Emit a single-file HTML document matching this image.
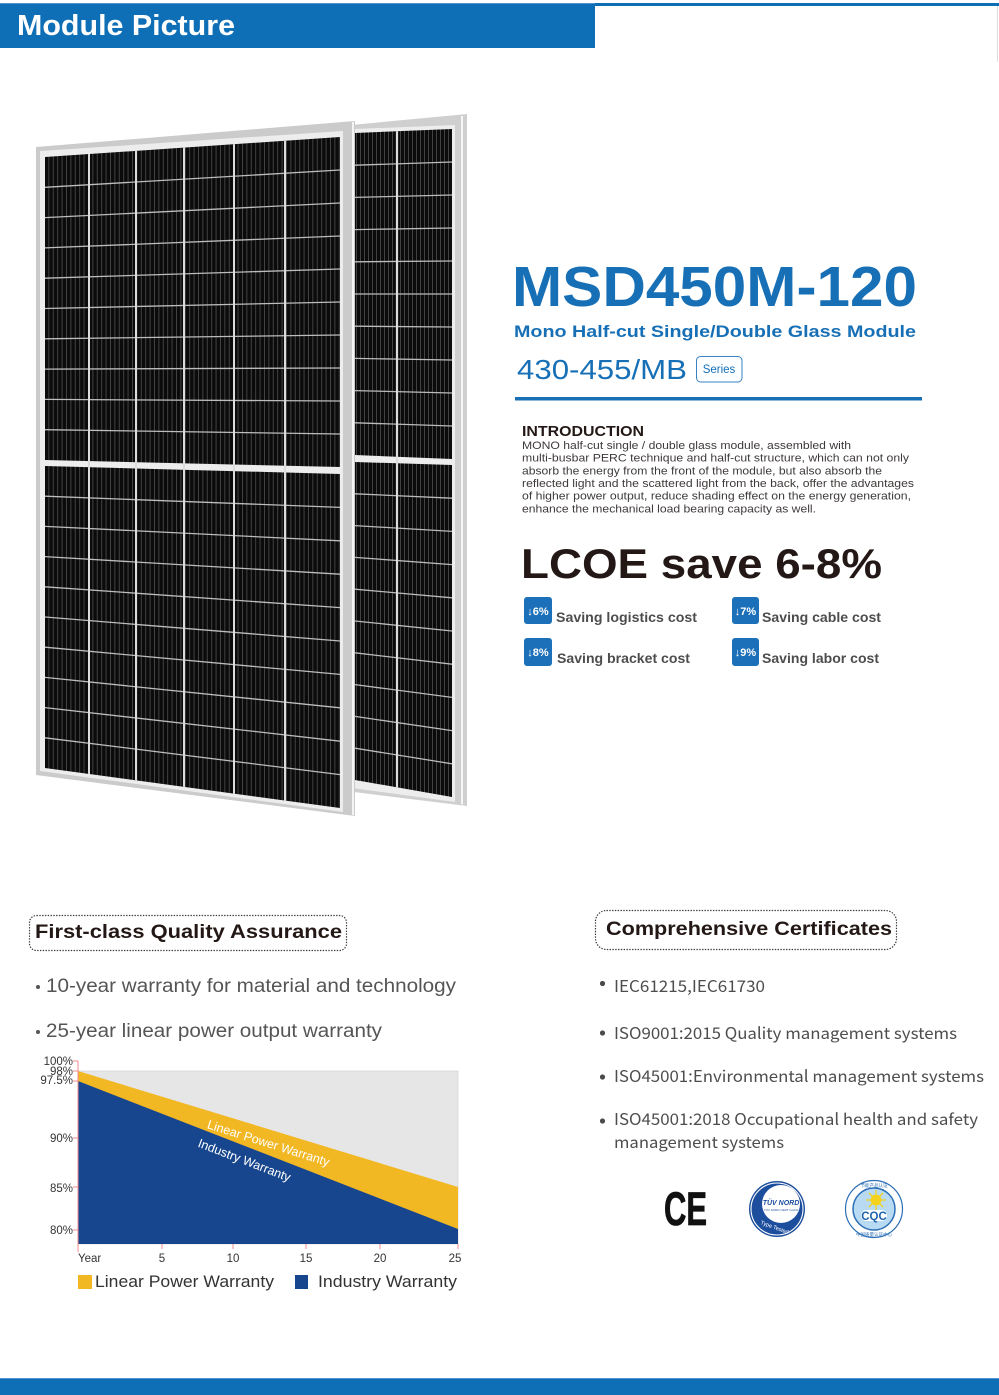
<!DOCTYPE html>
<html>
<head>
<meta charset="utf-8">
<style>
html,body{margin:0;padding:0;background:#fff;}
body{width:999px;height:1395px;overflow:hidden;}
svg{display:block;}
</style>
</head>
<body>
<svg width="999" height="1395" viewBox="0 0 999 1395" xmlns="http://www.w3.org/2000/svg" font-family="'Liberation Sans', Arial, sans-serif">
<defs>
  <pattern id="st" width="4.4" height="20" patternUnits="userSpaceOnUse">
    <rect width="4.4" height="20" fill="#0b0b0b"/>
    <rect width="0.9" height="20" fill="#474747"/>
  </pattern>
  <pattern id="st2" width="4.0" height="20" patternUnits="userSpaceOnUse">
    <rect width="4.0" height="20" fill="#0b0b0b"/>
    <rect width="0.9" height="20" fill="#474747"/>
  </pattern>
  <clipPath id="cf">
    <polygon points="45,157 340,137 340,808 45,768"/>
  </clipPath>
  <clipPath id="cb">
    <polygon points="355,133 452,129 452,797 355,780"/>
  </clipPath>
</defs>

<!-- Header -->
<rect x="0" y="3" width="595" height="45" fill="#0e6eb6"/>
<rect x="0" y="3" width="595" height="1" fill="#4f93cf"/>
<rect x="595" y="3" width="404" height="3" fill="#0e6eb6"/>
<rect x="997" y="6" width="1" height="56" fill="#dedede"/>
<text x="17" y="35" font-size="29" font-weight="bold" fill="#ffffff" textLength="218" lengthAdjust="spacingAndGlyphs">Module Picture</text>

<!-- Back panel -->
<polygon points="330,127 467,114 467,806 330,789" fill="#cfcfcf"/>
<polygon points="330,130 455,125 455,802 330,785" fill="#ededed"/>
<polygon points="461,116 463,116 463,805 461,804" fill="#f6f6f6"/>
<polygon points="355,133 452,129 452,459 355,455" fill="url(#st2)"/>
<polygon points="355,462 452,465 452,797 355,780" fill="url(#st2)"/>
<g clip-path="url(#cb)" stroke="#bcbcbc" stroke-width="1.3">
  <line x1="355" y1="165.2" x2="452" y2="162"/>
  <line x1="355" y1="197.4" x2="452" y2="195"/>
  <line x1="355" y1="229.6" x2="452" y2="228"/>
  <line x1="355" y1="261.8" x2="452" y2="261"/>
  <line x1="355" y1="294" x2="452" y2="294"/>
  <line x1="355" y1="326.2" x2="452" y2="327"/>
  <line x1="355" y1="358.4" x2="452" y2="360"/>
  <line x1="355" y1="390.6" x2="452" y2="393"/>
  <line x1="355" y1="422.8" x2="452" y2="426"/>
  <line x1="355" y1="493.8" x2="452" y2="498.2"/>
  <line x1="355" y1="525.6" x2="452" y2="531.4"/>
  <line x1="355" y1="557.4" x2="452" y2="564.6"/>
  <line x1="355" y1="589.2" x2="452" y2="597.8"/>
  <line x1="355" y1="621" x2="452" y2="631"/>
  <line x1="355" y1="652.8" x2="452" y2="664.2"/>
  <line x1="355" y1="684.6" x2="452" y2="697.4"/>
  <line x1="355" y1="716.4" x2="452" y2="730.6"/>
  <line x1="355" y1="748.2" x2="452" y2="763.8"/>
  <line x1="397" y1="100" x2="397" y2="820" stroke="#dcdcdc" stroke-width="2.2"/>
</g>

<!-- Front panel -->
<polygon points="36,147 355,121 355,816 36,775" fill="#cbcbcb"/>
<polygon points="40,151 343,131 343,812 40,771" fill="#ededed"/>
<polygon points="352,122 354,122 354,815 352,815" fill="#f4f4f4"/>
<polygon points="45,157 340,137 340,467 45,460" fill="url(#st)"/>
<polygon points="45,466 340,474 340,808 45,768" fill="url(#st)"/>
<g clip-path="url(#cf)" stroke="#bdbdbd" stroke-width="1.3">
  <line x1="45" y1="187.3" x2="340" y2="170"/>
  <line x1="45" y1="217.6" x2="340" y2="203"/>
  <line x1="45" y1="247.9" x2="340" y2="236"/>
  <line x1="45" y1="278.2" x2="340" y2="269"/>
  <line x1="45" y1="308.5" x2="340" y2="302"/>
  <line x1="45" y1="338.8" x2="340" y2="335"/>
  <line x1="45" y1="369.1" x2="340" y2="368"/>
  <line x1="45" y1="399.4" x2="340" y2="401"/>
  <line x1="45" y1="429.7" x2="340" y2="434"/>
  <line x1="45" y1="496.2" x2="340" y2="507.4"/>
  <line x1="45" y1="526.4" x2="340" y2="540.8"/>
  <line x1="45" y1="556.6" x2="340" y2="574.2"/>
  <line x1="45" y1="586.8" x2="340" y2="607.6"/>
  <line x1="45" y1="617" x2="340" y2="641"/>
  <line x1="45" y1="647.2" x2="340" y2="674.4"/>
  <line x1="45" y1="677.4" x2="340" y2="707.8"/>
  <line x1="45" y1="707.6" x2="340" y2="741.2"/>
  <line x1="45" y1="737.8" x2="340" y2="774.6"/>
  <g stroke="#dcdcdc" stroke-width="2">
    <line x1="89" y1="100" x2="89" y2="820"/>
    <line x1="136" y1="100" x2="136" y2="820"/>
    <line x1="184" y1="100" x2="184" y2="820"/>
    <line x1="234" y1="100" x2="234" y2="820"/>
    <line x1="285" y1="100" x2="285" y2="820"/>
  </g>
</g>

<!-- Title block -->
<text x="512" y="306" font-size="57" font-weight="bold" fill="#1770b6" textLength="405" lengthAdjust="spacingAndGlyphs">MSD450M-120</text>
<text x="514" y="337" font-size="16.5" font-weight="bold" fill="#1770b6" textLength="402" lengthAdjust="spacingAndGlyphs">Mono Half-cut Single/Double Glass Module</text>
<text x="517" y="379" font-size="28" fill="#1770b6" textLength="170" lengthAdjust="spacingAndGlyphs">430-455/MB</text>
<rect x="696.5" y="356.5" width="45.5" height="25.5" rx="4" fill="#fbfdff" stroke="#3b82c4" stroke-width="1"/>
<text x="719" y="373" font-size="11.5" fill="#1770b6" text-anchor="middle">Series</text>
<rect x="515" y="397" width="407" height="3.5" fill="#1770b6"/>

<!-- Introduction -->
<text x="522" y="436" font-size="15" font-weight="bold" fill="#231815" textLength="122" lengthAdjust="spacingAndGlyphs">INTRODUCTION</text>
<g font-size="11" fill="#3e3a39">
  <text x="522" y="449" textLength="329" lengthAdjust="spacingAndGlyphs">MONO half-cut single / double glass module, assembled with</text>
  <text x="522" y="461.7" textLength="387" lengthAdjust="spacingAndGlyphs">multi-busbar PERC technique and half-cut structure, which can not only</text>
  <text x="522" y="474.3" textLength="360" lengthAdjust="spacingAndGlyphs">absorb the energy from the front of the module, but also absorb the</text>
  <text x="522" y="487" textLength="392" lengthAdjust="spacingAndGlyphs">reflected light and the scattered light from the back, offer the advantages</text>
  <text x="522" y="499.7" textLength="389" lengthAdjust="spacingAndGlyphs">of higher power output, reduce shading effect on the energy generation,</text>
  <text x="522" y="512.3" textLength="294" lengthAdjust="spacingAndGlyphs">enhance the mechanical load bearing capacity as well.</text>
</g>

<text x="521" y="578" font-size="42" font-weight="bold" fill="#231815" textLength="361" lengthAdjust="spacingAndGlyphs">LCOE save 6-8%</text>

<!-- Badges -->
<rect x="524" y="597" width="28" height="27" rx="3" fill="#1c70b9"/>
<rect x="732" y="597" width="27" height="27" rx="3" fill="#1c70b9"/>
<rect x="524" y="638" width="28" height="28" rx="3" fill="#1c70b9"/>
<rect x="732" y="638" width="27" height="28" rx="3" fill="#1c70b9"/>
<g font-size="11" font-weight="bold" fill="#ffffff" text-anchor="middle">
  <text x="538" y="615">↓6%</text>
  <text x="745.5" y="615">↓7%</text>
  <text x="538" y="656">↓8%</text>
  <text x="745.5" y="656">↓9%</text>
</g>
<g font-size="13.5" font-weight="bold" fill="#4d4d4d">
  <text x="556" y="622" textLength="141" lengthAdjust="spacingAndGlyphs">Saving logistics cost</text>
  <text x="762" y="622" textLength="119" lengthAdjust="spacingAndGlyphs">Saving cable cost</text>
  <text x="557" y="663" textLength="133" lengthAdjust="spacingAndGlyphs">Saving bracket cost</text>
  <text x="762" y="663" textLength="117" lengthAdjust="spacingAndGlyphs">Saving labor cost</text>
</g>

<!-- Quality assurance -->
<rect x="29.5" y="915.5" width="317" height="35" rx="7" fill="none" stroke="#3a3a3a" stroke-width="1.2" stroke-dasharray="1.4 1.4"/>
<text x="35" y="938" font-size="19.5" font-weight="bold" fill="#231815" textLength="307" lengthAdjust="spacingAndGlyphs">First-class Quality Assurance</text>
<circle cx="38" cy="987" r="2" fill="#555"/>
<circle cx="38" cy="1032" r="2" fill="#555"/>
<g font-size="19" fill="#555555">
  <text x="46" y="992" textLength="410" lengthAdjust="spacingAndGlyphs">10-year warranty for material and technology</text>
  <text x="46" y="1037" textLength="336" lengthAdjust="spacingAndGlyphs">25-year linear power output warranty</text>
</g>

<!-- Chart -->
<rect x="78" y="1071" width="380" height="173" fill="#e6e6e6" stroke="#cfcfcf" stroke-width="0.6"/>
<polygon points="78,1071 458,1187 458,1244 78,1244" fill="#f2b824"/>
<polygon points="78,1081 458,1229 458,1244 78,1244" fill="#17468e"/>
<g stroke="#f08c8c" stroke-width="1">
  <line x1="78" y1="1061" x2="78" y2="1252"/>
  <line x1="73" y1="1061" x2="78" y2="1061"/>
  <line x1="73" y1="1071" x2="78" y2="1071"/>
  <line x1="73" y1="1081" x2="78" y2="1081"/>
  <line x1="73" y1="1138" x2="78" y2="1138"/>
  <line x1="73" y1="1187" x2="78" y2="1187"/>
  <line x1="73" y1="1230" x2="78" y2="1230"/>
  <line x1="162" y1="1244" x2="162" y2="1249"/>
  <line x1="233" y1="1244" x2="233" y2="1249"/>
  <line x1="306" y1="1244" x2="306" y2="1249"/>
  <line x1="380" y1="1244" x2="380" y2="1249"/>
  <line x1="458" y1="1244" x2="458" y2="1249"/>
</g>
<g font-size="11.5" fill="#333" text-anchor="end">
  <text x="73" y="1065">100%</text>
  <text x="73" y="1075">98%</text>
  <text x="73" y="1084">97.5%</text>
  <text x="73" y="1142">90%</text>
  <text x="73" y="1192">85%</text>
  <text x="73" y="1234">80%</text>
</g>
<g font-size="11.5" fill="#333" text-anchor="middle">
  <text x="78" y="1262" text-anchor="start">Year</text>
  <text x="162" y="1262">5</text>
  <text x="233" y="1262">10</text>
  <text x="306" y="1262">15</text>
  <text x="380" y="1262">20</text>
  <text x="455" y="1262">25</text>
</g>
<text x="268.5" y="1143" font-size="12.5" fill="#ffffff" text-anchor="middle" dy="0.35em" transform="rotate(17.5 268.5 1143)">Linear Power Warranty</text>
<text x="244.5" y="1160" font-size="12.5" fill="#ffffff" text-anchor="middle" dy="0.35em" transform="rotate(21 244.5 1160)">Industry Warranty</text>
<rect x="78" y="1275" width="14" height="14" fill="#f2b824"/>
<text x="95" y="1287" font-size="16.5" fill="#333" textLength="179" lengthAdjust="spacingAndGlyphs">Linear Power Warranty</text>
<rect x="295" y="1275" width="13" height="14" fill="#17468e"/>
<text x="318" y="1287" font-size="16.5" fill="#333" textLength="139" lengthAdjust="spacingAndGlyphs">Industry Warranty</text>

<!-- Certificates -->
<rect x="595.5" y="910.5" width="301" height="39" rx="11" fill="none" stroke="#3a3a3a" stroke-width="1.2" stroke-dasharray="1.4 1.4"/>
<text x="606" y="935" font-size="19.5" font-weight="bold" fill="#231815" textLength="286" lengthAdjust="spacingAndGlyphs">Comprehensive Certificates</text>
<g fill="#4a4a4a">
  <circle cx="602.5" cy="983.5" r="2.6"/>
  <circle cx="602.5" cy="1033" r="2.6"/>
  <circle cx="602.5" cy="1077" r="2.6"/>
  <circle cx="602.5" cy="1121" r="2.6"/>
</g>
<g font-family="'Noto Sans CJK SC', 'Liberation Sans', sans-serif" font-size="16" fill="#4d4d4d">
  <text x="614" y="992" textLength="151" lengthAdjust="spacingAndGlyphs">IEC61215,IEC61730</text>
  <text x="614" y="1039" textLength="343" lengthAdjust="spacingAndGlyphs">ISO9001:2015 Quality management systems</text>
  <text x="614" y="1082" textLength="370" lengthAdjust="spacingAndGlyphs">ISO45001:Environmental management systems</text>
  <text x="614" y="1125" textLength="364" lengthAdjust="spacingAndGlyphs">ISO45001:2018 Occupational health and safety</text>
  <text x="614" y="1148" textLength="170" lengthAdjust="spacingAndGlyphs">management systems</text>
</g>

<!-- Logos -->
<text x="664" y="1225" font-size="47" font-weight="bold" fill="#111" stroke="#111" stroke-width="0.8" textLength="43" lengthAdjust="spacingAndGlyphs">CE</text>

<circle cx="777" cy="1209" r="28" fill="#1d4e9d"/>
<circle cx="777" cy="1209" r="26" fill="none" stroke="#ffffff" stroke-width="1.1"/>
<circle cx="781" cy="1204" r="19" fill="#ffffff"/>
<text x="781" y="1205" font-size="7" font-weight="bold" font-style="italic" fill="#1d4e9d" text-anchor="middle">TÜV NORD</text>
<text x="781" y="1211" font-size="3" fill="#1d4e9d" text-anchor="middle">TÜV NORD CERT GmbH</text>
<text x="774" y="1229" font-size="5.5" fill="#ffffff" text-anchor="middle" transform="rotate(20 774 1229)">Type Tested</text>

<circle cx="874" cy="1209" r="28.5" fill="#ffffff" stroke="#2c6fb7" stroke-width="1.2"/>
<circle cx="874" cy="1209" r="21" fill="#b8daf2" stroke="#2c6fb7" stroke-width="1.5"/>
<g stroke="#f5d31c" stroke-width="1.3">
  <line x1="876" y1="1190" x2="876" y2="1210"/>
  <line x1="866" y1="1200" x2="886" y2="1200"/>
  <line x1="869" y1="1193" x2="883" y2="1207"/>
  <line x1="883" y1="1193" x2="869" y2="1207"/>
</g>
<circle cx="876" cy="1200" r="5.5" fill="#f5d31c"/>
<rect x="861" y="1210" width="26" height="11" rx="5" fill="#ffffff"/>
<text x="874" y="1220" font-size="11.5" font-weight="bold" fill="#1f62ad" text-anchor="middle">CQC</text>
<g font-family="'Noto Sans CJK SC', sans-serif" font-size="4.5" fill="#2c6fb7" text-anchor="middle">
  <text x="874" y="1187">节能产品认证</text>
  <text x="874" y="1236">中国质量认证中心</text>
</g>

<!-- Bottom bar -->
<rect x="0" y="1378" width="999" height="17" fill="#0e6eb6"/>
<rect x="0" y="1378" width="999" height="1" fill="#4f93cf"/>
</svg>
</body>
</html>
